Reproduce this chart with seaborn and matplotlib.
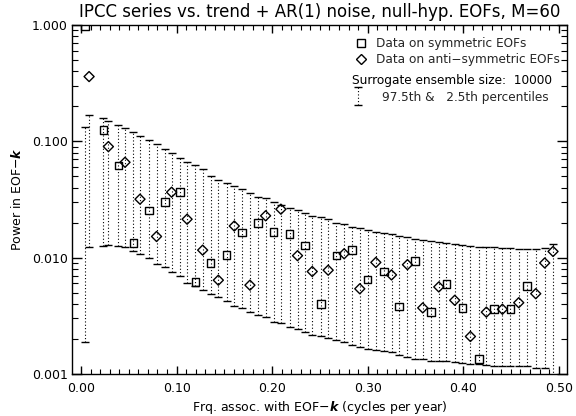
import numpy as np
import matplotlib
matplotlib.use("Agg")
import matplotlib.pyplot as plt
import seaborn as sns
from matplotlib.lines import Line2D
from matplotlib.legend_handler import HandlerErrorbar
from matplotlib.ticker import MultipleLocator, LogLocator, FuncFormatter, NullFormatter

# ---------------- data ----------------
sym_freq = [0.0042, 0.0233, 0.039, 0.0547, 0.0711, 0.0879, 0.1036, 0.1196, 0.1357, 0.1524,
            0.1687, 0.1855, 0.2015, 0.2183, 0.2343, 0.2510, 0.2674, 0.2838, 0.2999, 0.3169,
            0.3330, 0.3494, 0.3661, 0.3825, 0.3992, 0.4166, 0.4320, 0.4495, 0.4669]
sym_power = [0.98, 0.125, 0.062, 0.0133, 0.0254, 0.030, 0.0365, 0.0062, 0.0090, 0.0106,
             0.0165, 0.0198, 0.0167, 0.0160, 0.0127, 0.0040, 0.0104, 0.0117, 0.0065, 0.0076,
             0.0038, 0.0094, 0.0034, 0.0059, 0.0037, 0.00134, 0.0036, 0.0036, 0.0057]
sym_p975 = [0.132, 0.160, 0.138, 0.120, 0.103, 0.0865, 0.0725, 0.0622, 0.0505, 0.0442,
            0.0388, 0.0335, 0.0303, 0.0269, 0.0241, 0.0222, 0.0200, 0.0185, 0.0173, 0.0164,
            0.0154, 0.0145, 0.0139, 0.0133, 0.0129, 0.0124, 0.0123, 0.0120, 0.0118]
sym_p025 = [0.0019, 0.0126, 0.0126, 0.0115, 0.0099, 0.0083, 0.0069, 0.0057, 0.00488, 0.00427,
            0.00367, 0.00322, 0.00279, 0.00252, 0.00231, 0.0021, 0.00196, 0.00178, 0.00165, 0.00158,
            0.00146, 0.00135, 0.0013, 0.0013, 0.00124, 0.00121, 0.00118, 0.00117, 0.00117]

anti_freq = [0.0084, 0.0286, 0.046, 0.0617, 0.079, 0.0948, 0.111, 0.1273, 0.1437, 0.1604,
             0.1768, 0.1932, 0.2092, 0.2266, 0.2420, 0.2587, 0.2754, 0.2918, 0.3086, 0.3250,
             0.3417, 0.3577, 0.3745, 0.3912, 0.4076, 0.4243, 0.4411, 0.4582, 0.4760, 0.4854, 0.4941]
anti_power = [0.36, 0.090, 0.066, 0.0318, 0.0152, 0.0365, 0.0214, 0.0116, 0.0064, 0.0187,
              0.0058, 0.0229, 0.0261, 0.0104, 0.0076, 0.0078, 0.0108, 0.0054, 0.0091, 0.0071,
              0.0087, 0.0037, 0.0056, 0.0043, 0.0021, 0.0034, 0.0036, 0.0041, 0.0049, 0.0090, 0.0113]
anti_p975 = [0.169, 0.148, 0.131, 0.110, 0.095, 0.079, 0.0669, 0.058, 0.0466, 0.0414,
             0.0362, 0.0324, 0.0284, 0.0257, 0.0228, 0.0214, 0.0194, 0.0179, 0.0167, 0.0160,
             0.0150, 0.0142, 0.0136, 0.0131, 0.0126, 0.0123, 0.0122, 0.0119, 0.0119, 0.0120, 0.0131]
anti_p025 = [0.0124, 0.0129, 0.0123, 0.0107, 0.0088, 0.0076, 0.0061, 0.00528, 0.00462, 0.00387,
             0.00339, 0.00311, 0.00273, 0.00242, 0.00216, 0.00203, 0.00187, 0.00172, 0.00161, 0.00156,
             0.00141, 0.00135, 0.0013, 0.00126, 0.00121, 0.00120, 0.00117, 0.00117, 0.00113, 0.00112, 0.0009]

y_ticks = [0.001, 0.01, 0.1, 1.0]
x_ticks = [0.0, 0.1, 0.2, 0.3, 0.4, 0.5]

title = "IPCC series vs. trend + AR(1) noise, null-hyp. EOFs, M=60"
leg_sym = "Data on symmetric EOFs"
leg_anti = "Data on anti\u2212symmetric EOFs"
leg_ens = "Surrogate ensemble size:  10000"
leg_pct = "97.5th &   2.5th percentiles"

# ---------------- figure ----------------
sns.set_theme(style="ticks")
plt.rcParams['font.family'] = ['DejaVu Sans']
plt.rcParams['mathtext.fontset'] = 'dejavusans'

fig = plt.figure(figsize=(5.76, 4.16), dpi=100)
ax = fig.add_axes([0.125, 0.101, 0.859, 0.839])

def draw_bars(freq, lo, hi):
    freq = np.asarray(freq); lo = np.asarray(lo); hi = np.asarray(hi)
    eb = ax.errorbar(freq, lo, yerr=[np.zeros_like(lo), hi - lo], fmt='none',
                     ecolor='black', elinewidth=0.8, capsize=2.6, capthick=1.0, zorder=2)
    eb[2][0].set_linestyle((0, (1, 2)))
    for c in eb[1]:
        c.set_color('#222222')
    return eb

eb_sym = draw_bars(sym_freq, sym_p025, sym_p975)
draw_bars(anti_freq, anti_p025, anti_p975)

sns.scatterplot(x=sym_freq, y=sym_power, marker='s', s=30, color='black', ax=ax, zorder=3)
c1 = ax.collections[-1]
c1.set_facecolor('none'); c1.set_edgecolor('black'); c1.set_linewidth(1.0)
sns.scatterplot(x=anti_freq, y=anti_power, marker='D', s=26, color='black', ax=ax, zorder=3)
c2 = ax.collections[-1]
c2.set_facecolor('none'); c2.set_edgecolor('black'); c2.set_linewidth(1.0)

ax.set_yscale('log')
ax.set_ylim(0.001, 1.0)
ax.set_xlim(-0.0095, 0.5085)

ax.set_xticks(x_ticks)
ax.xaxis.set_major_formatter(FuncFormatter(lambda v, p: f"{v:.2f}"))
ax.xaxis.set_minor_locator(MultipleLocator(0.01))
ax.set_yticks(y_ticks)
ax.yaxis.set_major_formatter(FuncFormatter(lambda v, p: f"{v:.3f}"))
ax.yaxis.set_minor_locator(LogLocator(base=10, subs=np.arange(2, 10)))
ax.yaxis.set_minor_formatter(NullFormatter())

ax.tick_params(axis='both', which='both', direction='in', top=True, right=True,
               color='black', labelsize=9, labelcolor='black')
ax.tick_params(axis='x', which='major', length=6, width=1, pad=6)
ax.tick_params(axis='x', which='minor', length=3.5, width=0.8)
ax.tick_params(axis='y', which='major', length=7, width=1, pad=3)
ax.tick_params(axis='y', which='minor', length=4.5, width=0.8)
for s in ax.spines.values():
    s.set_color('black'); s.set_linewidth(1.0)
ax.grid(False)

ax.set_title(title, fontsize=12, pad=6, color='black')
ax.set_xlabel("Frq. assoc. with EOF\u2212" + r"$\mathbfit{k}$" + " (cycles per year)", fontsize=9, labelpad=3, color='black')
ax.set_ylabel("Power in EOF\u2212" + r"$\mathbfit{k}$", fontsize=9, labelpad=6, color='black')

# legends
FS = 8.7
h_sym = Line2D([], [], marker='s', ls='none', mfc='none', mec='black', ms=5.5, mew=1.0)
h_anti = Line2D([], [], marker='D', ls='none', mfc='none', mec='black', ms=5.0, mew=1.0)
leg1 = ax.legend([h_sym, h_anti], [leg_sym, leg_anti], loc='upper left',
                 bbox_to_anchor=(0.572, 0.966), frameon=False, fontsize=FS,
                 handlelength=1.0, handletextpad=0.75, labelspacing=0.3, borderpad=0,
                 borderaxespad=0, numpoints=1)
ax.add_artist(leg1)
ax.text(0.566, 0.842, leg_ens, transform=ax.transAxes, fontsize=FS, va='center', ha='left', color='black')
leg2 = ax.legend([eb_sym], [leg_pct], loc='upper left', bbox_to_anchor=(0.5596, 0.812),
                 frameon=False, fontsize=FS, handlelength=1.5, handletextpad=1.27,
                 borderpad=0, borderaxespad=0, numpoints=1,
                 handler_map={type(eb_sym): HandlerErrorbar(xerr_size=0.3, yerr_size=0.75)})

fig.savefig("out.png", dpi=100)
